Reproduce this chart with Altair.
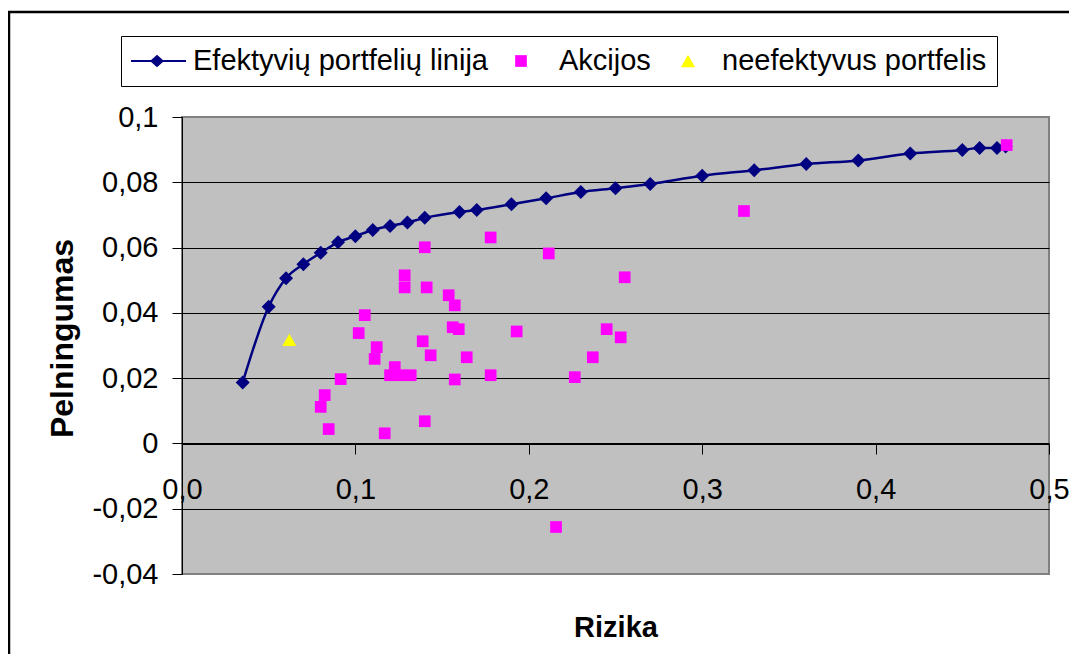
import altair as alt
import pandas as pd

# ---- data ----
series_names = ["Efektyvių portfelių linija", "Akcijos", "neefektyvus portfelis"]

frontier_x = [0.035, 0.05, 0.06, 0.07, 0.08, 0.09, 0.10, 0.11, 0.12, 0.13, 0.14,
              0.16, 0.17, 0.19, 0.21, 0.23, 0.25, 0.27, 0.30, 0.33, 0.36, 0.39,
              0.42, 0.45, 0.46, 0.47, 0.475]
frontier_y = [0.0187, 0.0419, 0.0506, 0.0549, 0.0584, 0.0616, 0.0635, 0.0654,
              0.0666, 0.0677, 0.0691, 0.0709, 0.0715, 0.0733, 0.0751, 0.0770,
              0.0782, 0.0795, 0.0820, 0.0837, 0.0856, 0.0867, 0.0888, 0.0899,
              0.0905, 0.0905, 0.0910]

stock_x = [0.4756, 0.3241, 0.178, 0.140, 0.2115, 0.2553, 0.1284, 0.1284, 0.1411,
           0.1538, 0.1573, 0.1054, 0.1019, 0.1561, 0.1596, 0.193, 0.2449, 0.253,
           0.1388, 0.1123, 0.1111, 0.1434, 0.1642, 0.2369, 0.1227, 0.120, 0.1257,
           0.1319, 0.1573, 0.178, 0.2265, 0.0915, 0.0823, 0.080, 0.0846, 0.1169,
           0.140, 0.2157]
stock_y = [0.0914, 0.0712, 0.0631, 0.0601, 0.0582, 0.0509, 0.0515, 0.0478, 0.0478,
           0.0454, 0.0423, 0.0393, 0.0338, 0.0356, 0.0350, 0.0343, 0.0350, 0.0325,
           0.0313, 0.0295, 0.0259, 0.0270, 0.0264, 0.0264, 0.0234, 0.0209, 0.0209,
           0.0209, 0.0196, 0.0209, 0.0203, 0.0197, 0.0148, 0.0112, 0.0044, 0.0031,
           0.0068, -0.0256]

ineff_x = [0.0619]
ineff_y = [0.0317]

x_ticks = [0.0, 0.1, 0.2, 0.3, 0.4, 0.5]
y_ticks = [-0.04, -0.02, 0.0, 0.02, 0.04, 0.06, 0.08, 0.1]

frontier = pd.DataFrame({"x": frontier_x, "y": frontier_y, "series": series_names[0]})
stocks = pd.DataFrame({"x": stock_x, "y": stock_y, "series": series_names[1]})
ineff = pd.DataFrame({"x": ineff_x, "y": ineff_y, "series": series_names[2]})
all_series = pd.concat([frontier, stocks, ineff], ignore_index=True)

FONT = "Liberation Sans"
NAVY = "#000080"
MAGENTA = "#FF00FF"
YELLOW = "#FFFF00"

# legend symbols (unit paths, symbolSize 900 -> 15 px per unit)
leg_line = "M-1,-0.067H2.667V0.067H-1Z M0.267,0L0.733,-0.42L1.2,0L0.733,0.42Z"
leg_square = "M0.21,-0.39H0.99V0.39H0.21Z"
leg_tri = "M0.867,-0.41L1.333,0.41L0.4,0.41Z"
# data symbols (centered)
pt_square = "M-0.39,-0.39H0.39V0.39H-0.39Z"
pt_tri = "M0,-0.41L0.467,0.41L-0.467,0.41Z"

x_scale = alt.Scale(domain=[0, 0.5], nice=False, zero=False)
y_scale = alt.Scale(domain=[-0.04, 0.1], nice=False, zero=False)

x_axis = alt.Axis(
    values=x_ticks, title="Rizika", offset=-130, grid=False,
    domainColor="black", domainWidth=1, tickColor="black", tickSize=10,
    labelPadding=21, labelFlush=False, labelOverlap=False,
    labelExpr="replace(format(datum.value, '.1f'), '.', ',')",
    labelFont=FONT, labelFontSize=29, labelColor="black",
    titleFont=FONT, titleFontSize=29, titleFontWeight="bold", titleColor="black",
    titleY=183, titleBaseline="middle",
)
y_axis = alt.Axis(
    values=y_ticks, title="Pelningumas", grid=True,
    gridColor={"condition": {"test": "datum.value > 0.099 || datum.value < -0.039",
                             "value": "transparent"}, "value": "black"},
    gridWidth=1, gridOpacity=1,
    domainColor="black", domainWidth=1, tickColor="black", tickSize=10,
    labelPadding=14, labelOverlap=False,
    labelExpr="replace(toString(round(datum.value*100)/100), '.', ',')",
    labelFont=FONT, labelFontSize=29, labelColor="black",
    titleFont=FONT, titleFontSize=32, titleFontWeight="bold", titleColor="black",
    titleX=-120, titleY=221, titleAngle=270, titleAlign="center", titleBaseline="middle",
)

X = alt.X("x:Q", scale=x_scale, axis=x_axis)
Y = alt.Y("y:Q", scale=y_scale, axis=y_axis)

legend = alt.Legend(
    title=None, orient="none", legendX=-61, legendY=-81, direction="horizontal",
    columns=3, strokeColor="black", fillColor="white", padding=10,
    labelFont=FONT, labelFontSize=29, labelColor="black", labelLimit=0,
    symbolSize=900, symbolStrokeWidth=0, symbolOpacity=1,
    labelOffset=32, columnPadding=9,
)

frame = alt.Chart(pd.DataFrame({"a": [0]})).mark_rect(
    filled=False, stroke="black", strokeWidth=2.5
).encode(
    x=alt.value(-173), x2=alt.value(950), y=alt.value(-105), y2=alt.value(640)
)

# invisible layer that only carries the legend
legend_layer = alt.Chart(all_series).mark_point(filled=True, opacity=0, size=900).encode(
    x=X, y=Y,
    color=alt.Color("series:N", scale=alt.Scale(domain=series_names,
                                                range=[NAVY, MAGENTA, YELLOW]),
                    legend=legend),
    shape=alt.Shape("series:N", scale=alt.Scale(domain=series_names,
                                                range=[leg_line, leg_square, leg_tri]),
                    legend=legend),
)

line = alt.Chart(frontier).mark_line(
    color=NAVY, strokeWidth=2.5, interpolate="monotone"
).encode(x=X, y=Y)

diamonds = alt.Chart(frontier).mark_point(
    shape="diamond", filled=True, size=196, color=NAVY, opacity=1
).encode(x=X, y=Y)

squares = alt.Chart(stocks).mark_point(
    shape=pt_square, filled=True, size=900, color=MAGENTA, opacity=1
).encode(x=X, y=Y)

triangle = alt.Chart(ineff).mark_point(
    shape=pt_tri, filled=True, size=900, color=YELLOW, opacity=1
).encode(x=X, y=Y)

chart = alt.layer(frame, legend_layer, line, diamonds, squares, triangle).properties(
    width=867, height=457,
    padding={"left": 174, "top": 109, "right": 20, "bottom": 80},
    autosize=alt.AutoSizeParams(type="none"),
    background="white",
).configure_view(
    fill="#C0C0C0", stroke="#808080", strokeWidth=2
)

chart.save("out.html", embed_options={"renderer": "svg", "actions": False})
